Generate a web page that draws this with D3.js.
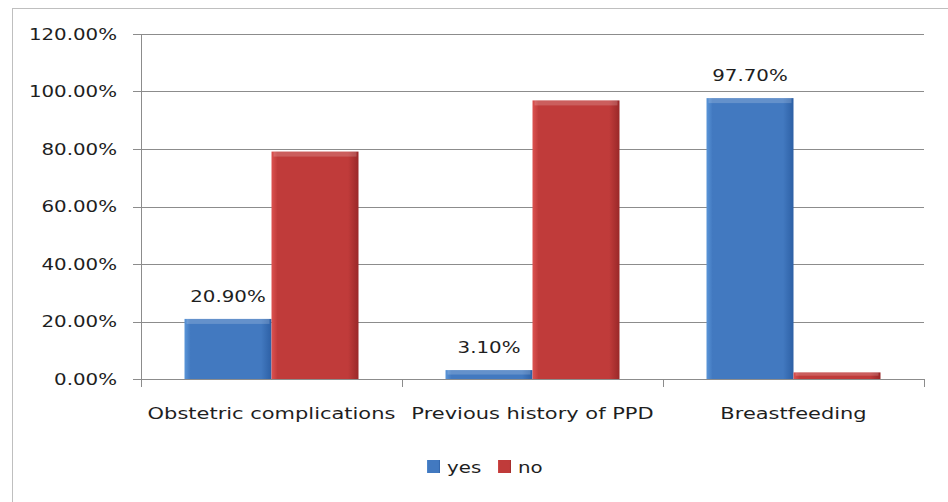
<!DOCTYPE html>
<html>
<head>
<meta charset="utf-8">
<script src="https://cdn.jsdelivr.net/npm/d3@7"></script>
<style>
html,body{margin:0;padding:0;background:#fff;}
svg{display:block;}
text{font-family:"DejaVu Sans",Verdana,sans-serif;fill:#1e1e1e;}
</style>
</head>
<body>
<svg id="chart" width="948" height="502"></svg>
<script>
const categories = ["Obstetric complications", "Previous history of PPD", "Breastfeeding"];
const seriesNames = ["yes", "no"];
const yesValues = [20.9, 3.1, 97.7];
const noValues = [79.1, 96.9, 2.3];
const yTicks = [0, 20, 40, 60, 80, 100, 120];
const yesLabels = ["20.90%", "3.10%", "97.70%"];

const data = categories.map((c, i) => ({cat: c, yes: yesValues[i], no: noValues[i], label: yesLabels[i]}));

const svg = d3.select("#chart");
const W = 948, H = 502;
const margin = {left: 141, right: 24, top: 34, bottom: 123};
const x0 = d3.scaleBand().domain(categories).range([margin.left, W - margin.right]).paddingInner(1/3).paddingOuter(1/6);
const x1 = d3.scaleBand().domain(seriesNames).range([0, x0.bandwidth()]);
const y = d3.scaleLinear().domain([0, 120]).range([H - margin.bottom, margin.top]);

function stretch(sel, k) {
  sel.each(function() {
    const w = this.getComputedTextLength();
    d3.select(this).attr("textLength", w * k).attr("lengthAdjust", "spacingAndGlyphs");
  });
}

// outer border
svg.append("rect").attr("x", 12.5).attr("y", 8.5).attr("width", 960).attr("height", 520)
  .attr("fill", "#fff").attr("stroke", "#bfbfbf").attr("stroke-width", 1);

// gradients
const defs = svg.append("defs");
const gradSpec = {
  yes: ["#5a95d8", "#4279c0", "#2d60a5"],
  no: ["#dc5250", "#c03b3a", "#992828"]
};
Object.entries(gradSpec).forEach(([k, cols]) => {
  const g = defs.append("linearGradient").attr("id", "g-" + k).attr("x1", 0).attr("x2", 1).attr("y1", 0).attr("y2", 0);
  g.append("stop").attr("offset", "0%").attr("stop-color", cols[0]);
  g.append("stop").attr("offset", "7%").attr("stop-color", cols[1]);
  g.append("stop").attr("offset", "88%").attr("stop-color", cols[1]);
  g.append("stop").attr("offset", "100%").attr("stop-color", cols[2]);
});

// gridlines
svg.append("g").selectAll("line").data(yTicks).join("line")
  .attr("x1", margin.left - 8).attr("x2", W - margin.right)
  .attr("y1", d => Math.round(y(d)) + 0.5).attr("y2", d => Math.round(y(d)) + 0.5)
  .attr("stroke", "#8c8c8c").attr("stroke-width", 1);

// y axis line
svg.append("line").attr("x1", margin.left + 0.5).attr("x2", margin.left + 0.5)
  .attr("y1", y(120)).attr("y2", y(0) + 1).attr("stroke", "#8c8c8c");

// y tick labels
const yl = svg.append("g").selectAll("text").data(yTicks).join("text")
  .attr("x", margin.left - 24).attr("y", d => y(d)).attr("dy", "0.36em")
  .attr("text-anchor", "end").attr("font-size", "16.5px")
  .text(d => d.toFixed(2) + "%");
stretch(yl, 1.2);

// category ticks
const edges = categories.map(c => x0(c) - x0.step() * x0.paddingInner() / 2).concat([W - margin.right]);
edges[0] = margin.left;
svg.append("g").selectAll("line").data(edges).join("line")
  .attr("x1", d => Math.round(d) + 0.5).attr("x2", d => Math.round(d) + 0.5)
  .attr("y1", y(0)).attr("y2", y(0) + 8).attr("stroke", "#8c8c8c");

// bars
const groups = svg.append("g").selectAll("g").data(data).join("g")
  .attr("transform", d => `translate(${x0(d.cat)},0)`);
groups.selectAll("rect.bar").data(d => seriesNames.map(s => ({s, v: d[s]}))).join("rect")
  .attr("class", "bar")
  .attr("x", d => x1(d.s)).attr("width", x1.bandwidth())
  .attr("y", d => y(d.v)).attr("height", d => y(0) - y(d.v))
  .attr("fill", d => `url(#g-${d.s})`);
// top bevel highlight
groups.selectAll("rect.bev").data(d => seriesNames.map(s => ({s, v: d[s]}))).join("rect")
  .attr("class", "bev")
  .attr("x", d => x1(d.s) + 2).attr("width", x1.bandwidth() - 4)
  .attr("y", d => y(d.v)).attr("height", d => Math.min(5, (y(0) - y(d.v)) / 2))
  .attr("fill", "#ffffff").attr("opacity", 0.18);

// value labels (yes series)
const vl = svg.append("g").selectAll("text").data(data).join("text")
  .attr("x", d => x0(d.cat) + x1("yes") + x1.bandwidth() / 2)
  .attr("y", d => y(d.yes) - 23).attr("dy", "0.36em")
  .attr("text-anchor", "middle").attr("font-size", "16.5px")
  .text(d => d.label);
stretch(vl, 1.2);

// category labels
const cl = svg.append("g").selectAll("text").data(categories).join("text")
  .attr("x", d => x0(d) + x0.bandwidth() / 2).attr("y", y(0) + 34).attr("dy", "0.36em")
  .attr("text-anchor", "middle").attr("font-size", "16.5px")
  .text(d => d);
stretch(cl, 1.27);

// legend
const legend = svg.append("g");
const legX = [427, 498];
seriesNames.forEach((s, i) => {
  legend.append("rect").attr("x", legX[i]).attr("y", 460).attr("width", 13).attr("height", 13)
    .attr("fill", `url(#g-${s})`);
  const t = legend.append("text").attr("x", legX[i] + 20).attr("y", 467).attr("dy", "0.36em")
    .attr("font-size", "16.5px").text(s);
  stretch(t, 1.2);
});
</script>
</body>
</html>
